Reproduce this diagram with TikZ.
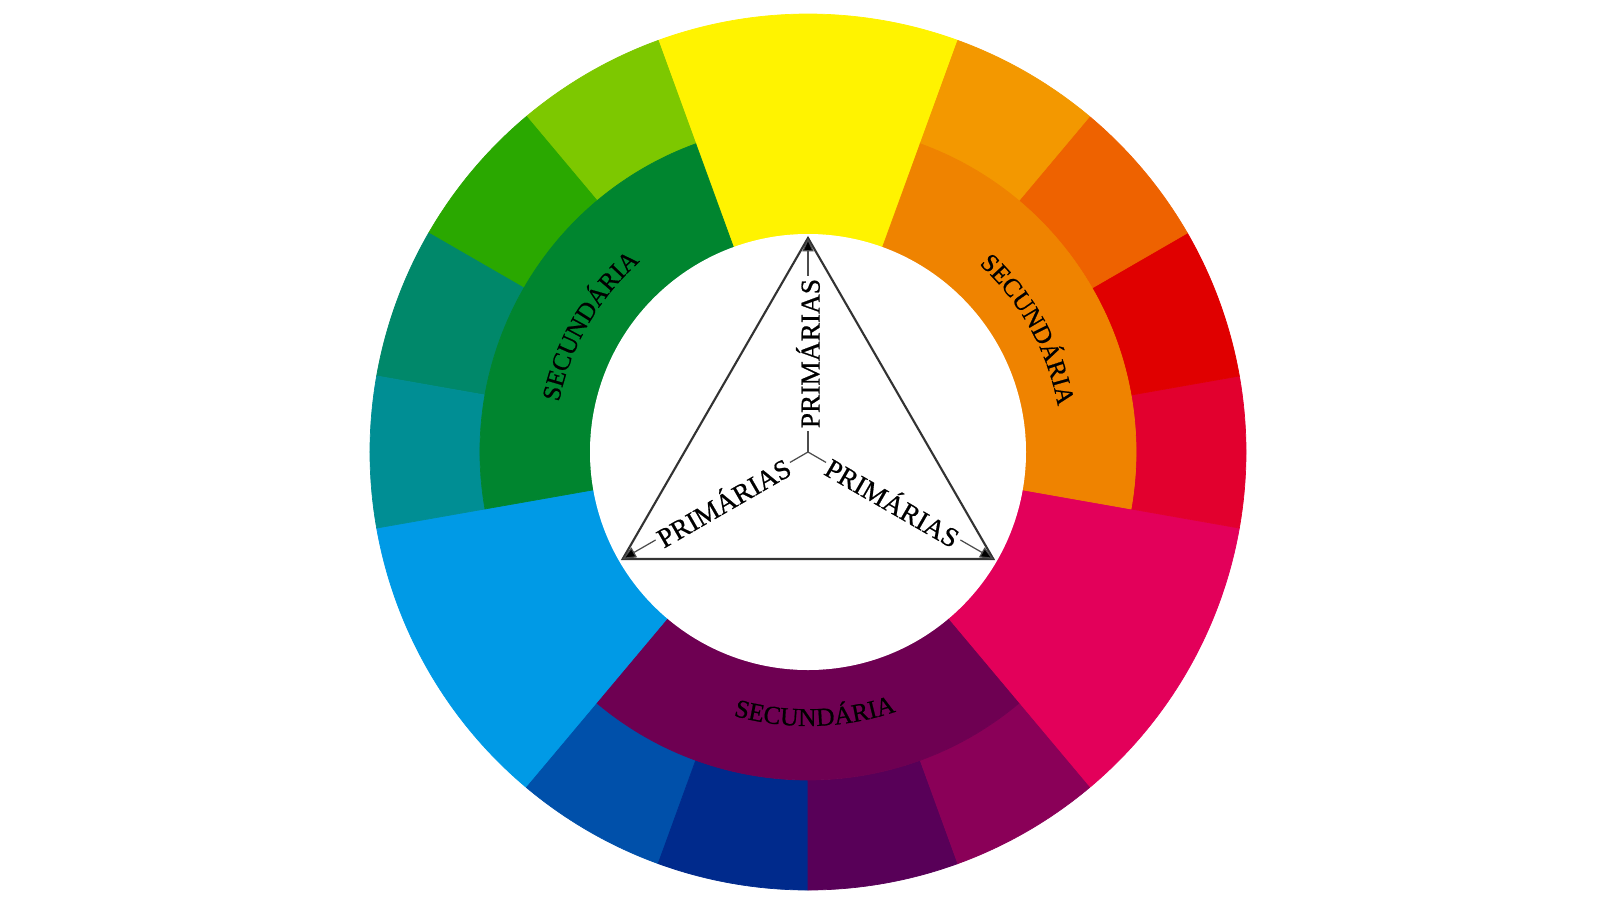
\documentclass[tikz,border=0pt]{standalone}
\usepackage{fontspec}
\setmainfont{Liberation Serif}
\newfontfamily\rotfont[FakeBold=0.7]{Liberation Serif}
\usetikzlibrary{decorations.text,arrows.meta}

\definecolor{amarelo}{HTML}{FFF300}
\definecolor{verdelima}{HTML}{7DC800}
\definecolor{verdeclaro}{HTML}{2AA800}
\definecolor{verdeazul}{HTML}{00886A}
\definecolor{petroleo}{HTML}{008E94}
\definecolor{verde}{HTML}{00852F}
\definecolor{azul}{HTML}{009AE6}
\definecolor{azulmedio}{HTML}{0050AA}
\definecolor{marinho}{HTML}{002A8C}
\definecolor{roxo}{HTML}{580058}
\definecolor{ameixa}{HTML}{8A0058}
\definecolor{violeta}{HTML}{6E0052}
\definecolor{magenta}{HTML}{E3005A}
\definecolor{carmim}{HTML}{E2002E}
\definecolor{vermelho}{HTML}{E00000}
\definecolor{vermelhoalaranjado}{HTML}{EE6200}
\definecolor{amarelolaranja}{HTML}{F39800}
\definecolor{laranja}{HTML}{EF8300}

\begin{document}
\begin{tikzpicture}
[seg/.style={fill=#1,draw=#1,line width=0.2pt},
 lado/.style={draw=black!80,line width=0.6pt},
 raio/.style={draw=black!70,line width=0.35pt,-{Triangle[length=3.8pt,width=3.2pt,fill=black]}},
 prim/.style={fill=white,inner sep=0.8pt,sloped,pos=0.46,font=\rotfont\fontsize{7.8}{9}\selectfont},
 secund/.style={decorate,decoration={text along path,text align=center,
   text={|\rotfont\fontsize{7.3}{9}\selectfont|SECUNDÁRIA}}}]
\useasboundingbox (-8.08,-4.48) rectangle (7.92,4.52);
\coordinate (O) at (0,0);

% anel de cores
\foreach \a/\b/\r/\R/\cor in {70/110/2.18/4.38/amarelo,190/230/2.18/4.38/azul,310/350/2.18/4.38/magenta,
  110/130/3.28/4.38/verdelima,130/150/3.28/4.38/verdeclaro,150/170/3.28/4.38/verdeazul,170/190/3.28/4.38/petroleo,
  230/250/3.28/4.38/azulmedio,250/270/3.28/4.38/marinho,270/290/3.28/4.38/roxo,290/310/3.28/4.38/ameixa,
  -10/10/3.28/4.38/carmim,10/30/3.28/4.38/vermelho,30/50/3.28/4.38/vermelhoalaranjado,50/70/3.28/4.38/amarelolaranja,
  110/190/2.18/3.28/verde,230/310/2.18/3.28/violeta,-10/70/2.18/3.28/laranja}{
\fill[seg=\cor] (\a:\R) arc[start angle=\a,end angle=\b,radius=\R] -- (\b:\r) arc[start angle=\b,end angle=\a,radius=\r] -- cycle;
}
\fill[white] (O) circle (2.18);

% textos curvos
\path[secund] (180:2.54) arc[start angle=180,end angle=120,radius=2.54];
\path[secund] (59:2.54) arc[start angle=59,end angle=-1,radius=2.54];
\path[secund] (241.5:2.74) arc[start angle=241.5,end angle=301.5,radius=2.74];

% triangulo
\coordinate (T1) at (90:2.14);
\coordinate (T2) at (210:2.14);
\coordinate (T3) at (330:2.14);
\draw[lado] (T1) -- (T2) -- (T3) -- cycle;

\draw[raio] (O) -- node[prim] {PRIMÁRIAS} (T1);
\draw[raio] (O) -- node[prim] {PRIMÁRIAS} (T2);
\draw[raio] (O) -- node[prim] {PRIMÁRIAS} (T3);
\end{tikzpicture}
\end{document}
